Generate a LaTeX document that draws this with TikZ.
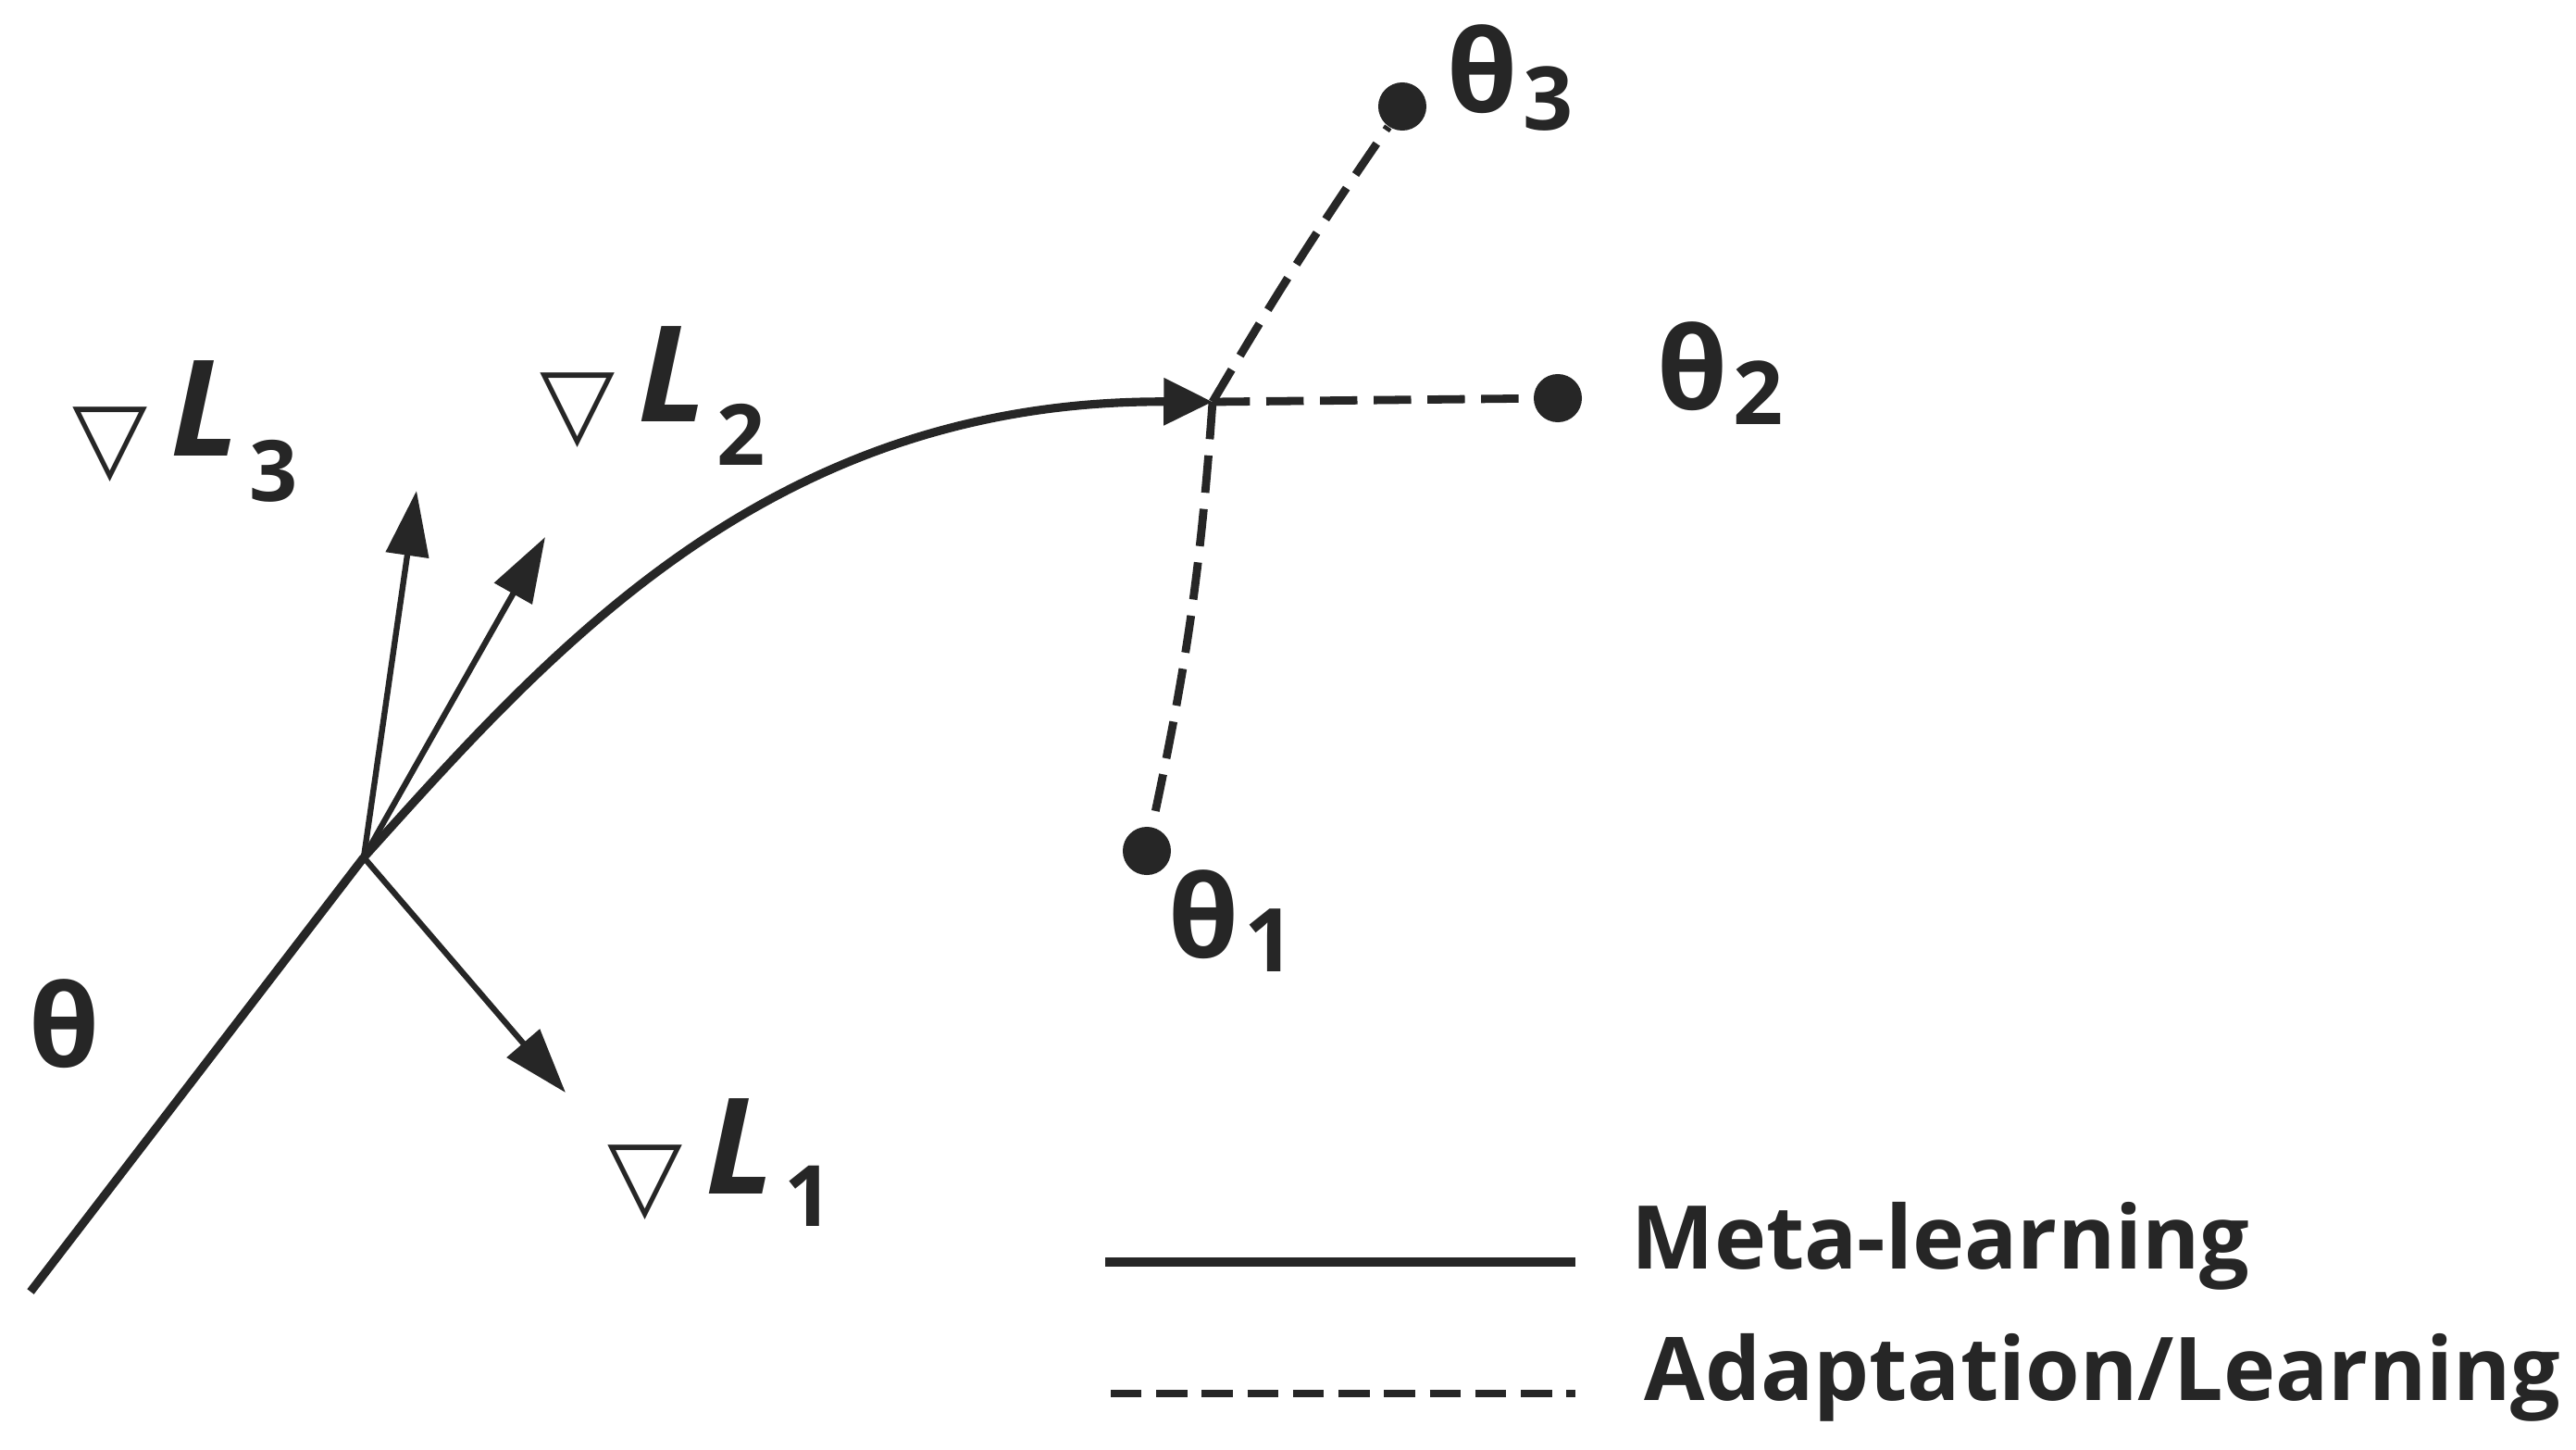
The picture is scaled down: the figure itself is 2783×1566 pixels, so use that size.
\documentclass[tikz,border=0pt]{standalone}
\usepackage{fontspec}
\setmainfont{Open Sans}
\newfontfamily\symfont{DejaVu Sans}
\usetikzlibrary{arrows.meta}
\newcommand\thlab[2]{\fontsize{35}{40}\selectfont\bfseries θ\hspace{1.5pt}\raisebox{-#2}{\fontsize{27}{30}\selectfont #1}}
\newcommand\gradlab[2]{{\symfont\fontsize{30}{36}\selectfont\raisebox{-4.5pt}{▽}}\hspace{7pt}{\fontsize{41}{48}\selectfont\bfseries\itshape L}\hspace{3pt}\raisebox{-#2}{\fontsize{26}{30}\selectfont\bfseries #1}}
\tikzset{
  mainline/.style={line width=2.6pt, draw=black!85},
  gradarrow/.style={line width=1.8pt, draw=black!85, -{Triangle[length=20pt,width=13pt]}},
  adapt/.style={line width=2.5pt, draw=black!85, dash pattern=on 11.5pt off 5pt},
  dot/.style={circle, fill=black!85, inner sep=0pt, minimum size=0.52cm},
  lab/.style={anchor=base west, inner sep=0pt, text=black!85},
}
\begin{document}
\begin{tikzpicture}[x=0.01cm, y=-0.01cm]
\useasboundingbox (0,0) rectangle (2783,1566);
% coordinates
\coordinate (s) at (33,1395);
\coordinate (j0) at (393,926);
\coordinate (j) at (1310,434);
\coordinate (a3) at (450,530);
\coordinate (a2) at (589,580);
\coordinate (a1) at (611,1180);
% dots
\node[dot] (d3) at (1515,115) {};
\node[dot] (d2) at (1683,430) {};
\node[dot] (d1) at (1239,919) {};
% meta path
\draw[mainline] (s) -- (j0);
\draw[mainline, -{Triangle[length=15pt,width=14pt]}] (j0) .. controls (594,703) and (830,432) .. (j);
% gradient arrows
\draw[gradarrow] (j0) -- (a3);
\draw[gradarrow] (j0) -- (a2);
\draw[gradarrow] (j0) -- (a1);
% adaptation
\draw[adapt] (j) to[bend left=2] (d3);
\draw[adapt] (j) -- (d2);
\draw[adapt] (j) to[bend left=4] (d1);
% labels
\node[lab] (th) at (31,1152) {\fontsize{35}{40}\selectfont\bfseries θ};
\node[lab] (th3) at (1563,121) {\thlab{3}{5.5pt}};
\node[lab] (th2) at (1790,442) {\thlab{2}{4.8pt}};
\node[lab] (th1) at (1262,1034) {\thlab{1}{4.5pt}};
\node[lab] (g3) at (78,492) {\gradlab{3}{14pt}};
\node[lab] (g2) at (583,455) {\gradlab{2}{13.5pt}};
\node[lab] (g1) at (656,1289) {\gradlab{1}{10pt}};
% legend
\coordinate (ls1) at (1194,1363);
\coordinate (ls2) at (1702,1363);
\coordinate (ld1) at (1200,1505);
\coordinate (ld2) at (1702,1505);
\draw[mainline] (ls1) -- (ls2);
\draw[adapt, dash pattern=on 9.5pt off 4.5pt] (ld1) -- (ld2);
\node[lab] (lm) at (1762,1370) {\fontsize{27}{32}\selectfont\bfseries Meta-learning};
\node[lab] (la) at (1776,1512) {\fontsize{27}{32}\selectfont\bfseries Adaptation/Learning};
\end{tikzpicture}
\end{document}
